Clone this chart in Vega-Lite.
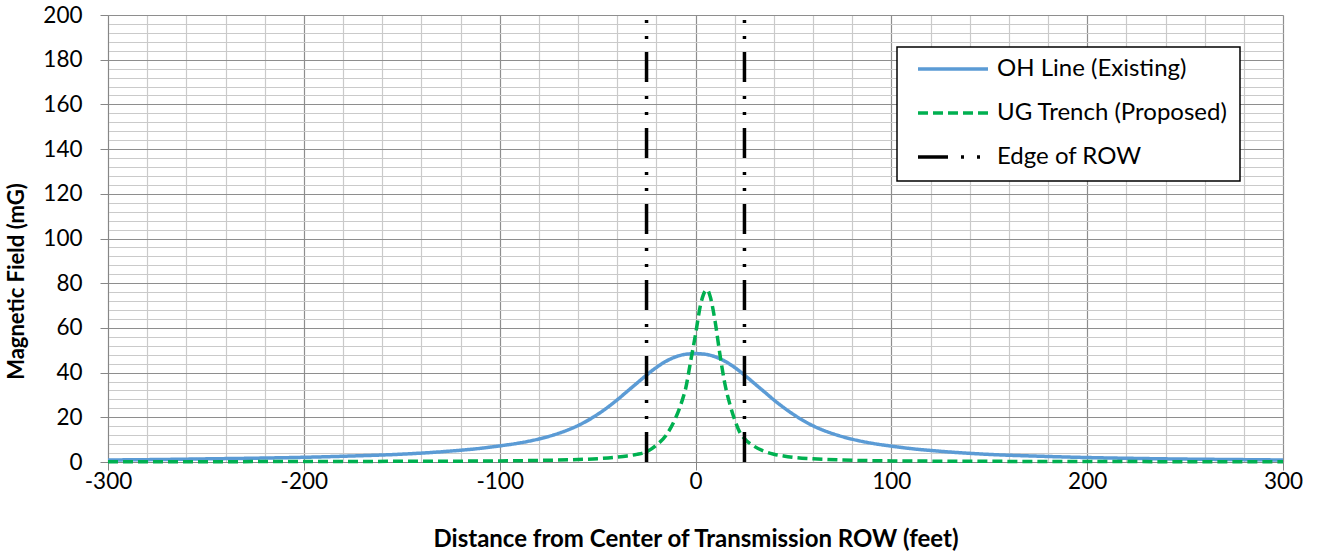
{
  "$schema": "https://vega.github.io/schema/vega-lite/v6.json",
  "width": 1175,
  "height": 447,
  "autosize": {"type": "none"},
  "padding": {"left": 108, "top": 15, "right": 34, "bottom": 92},
  "background": "white",
  "config": {
    "view": {"stroke": null},
    "font": "Lato",
    "axis": {
      "domainColor": "#868686",
      "tickColor": "#868686",
      "labelColor": "#000000",
      "titleColor": "#000000",
      "labelFont": "Lato",
      "labelFontSize": 22.5,
      "titleFont": "Lato",
      "titleFontWeight": "bold",
      "tickSize": 8,
      "labelOverlap": false,
      "labelFlush": false
    },
    "legend": {
      "strokeColor": "#000000",
      "strokeWidth": 1.5,
      "fillColor": "#ffffff",
      "padding": 12,
      "symbolType": "stroke",
      "symbolSize": 4900,
      "symbolStrokeWidth": 3.5,
      "symbolOffset": 7,
      "labelOffset": 7,
      "clipHeight": 20,
      "rowPadding": 20,
      "labelFont": "Lato",
      "labelFontSize": 24,
      "labelColor": "#000000",
      "labelLimit": 400
    }
  },
  "datasets": {
    "oh": [
      {"ft": -300, "mG": 0.9, "series": "OH Line (Existing)"},
      {"ft": -275, "mG": 1.1, "series": "OH Line (Existing)"},
      {"ft": -250, "mG": 1.4, "series": "OH Line (Existing)"},
      {"ft": -225, "mG": 1.7, "series": "OH Line (Existing)"},
      {"ft": -200, "mG": 2.1, "series": "OH Line (Existing)"},
      {"ft": -175, "mG": 2.7, "series": "OH Line (Existing)"},
      {"ft": -150, "mG": 3.5, "series": "OH Line (Existing)"},
      {"ft": -125, "mG": 4.9, "series": "OH Line (Existing)"},
      {"ft": -110, "mG": 6.1, "series": "OH Line (Existing)"},
      {"ft": -100, "mG": 7.2, "series": "OH Line (Existing)"},
      {"ft": -90, "mG": 8.5, "series": "OH Line (Existing)"},
      {"ft": -80, "mG": 10.3, "series": "OH Line (Existing)"},
      {"ft": -70, "mG": 12.8, "series": "OH Line (Existing)"},
      {"ft": -60, "mG": 16.3, "series": "OH Line (Existing)"},
      {"ft": -50, "mG": 21.3, "series": "OH Line (Existing)"},
      {"ft": -40, "mG": 27.8, "series": "OH Line (Existing)"},
      {"ft": -35, "mG": 31.5, "series": "OH Line (Existing)"},
      {"ft": -30, "mG": 35.2, "series": "OH Line (Existing)"},
      {"ft": -25, "mG": 38.9, "series": "OH Line (Existing)"},
      {"ft": -20, "mG": 42.3, "series": "OH Line (Existing)"},
      {"ft": -15, "mG": 45.1, "series": "OH Line (Existing)"},
      {"ft": -10, "mG": 47.1, "series": "OH Line (Existing)"},
      {"ft": -5, "mG": 48.2, "series": "OH Line (Existing)"},
      {"ft": 0, "mG": 48.5, "series": "OH Line (Existing)"},
      {"ft": 5, "mG": 48.2, "series": "OH Line (Existing)"},
      {"ft": 10, "mG": 47.1, "series": "OH Line (Existing)"},
      {"ft": 15, "mG": 45.1, "series": "OH Line (Existing)"},
      {"ft": 20, "mG": 42.3, "series": "OH Line (Existing)"},
      {"ft": 25, "mG": 38.9, "series": "OH Line (Existing)"},
      {"ft": 30, "mG": 35.2, "series": "OH Line (Existing)"},
      {"ft": 35, "mG": 31.5, "series": "OH Line (Existing)"},
      {"ft": 40, "mG": 27.8, "series": "OH Line (Existing)"},
      {"ft": 50, "mG": 21.3, "series": "OH Line (Existing)"},
      {"ft": 60, "mG": 16.2, "series": "OH Line (Existing)"},
      {"ft": 70, "mG": 12.7, "series": "OH Line (Existing)"},
      {"ft": 80, "mG": 10.2, "series": "OH Line (Existing)"},
      {"ft": 90, "mG": 8.4, "series": "OH Line (Existing)"},
      {"ft": 100, "mG": 7.1, "series": "OH Line (Existing)"},
      {"ft": 110, "mG": 6.0, "series": "OH Line (Existing)"},
      {"ft": 125, "mG": 4.8, "series": "OH Line (Existing)"},
      {"ft": 150, "mG": 3.4, "series": "OH Line (Existing)"},
      {"ft": 175, "mG": 2.6, "series": "OH Line (Existing)"},
      {"ft": 200, "mG": 2.0, "series": "OH Line (Existing)"},
      {"ft": 225, "mG": 1.6, "series": "OH Line (Existing)"},
      {"ft": 250, "mG": 1.3, "series": "OH Line (Existing)"},
      {"ft": 275, "mG": 1.1, "series": "OH Line (Existing)"},
      {"ft": 300, "mG": 0.9, "series": "OH Line (Existing)"}
    ],
    "ug": [
      {"ft": -300, "mG": 0.1, "series": "UG Trench (Proposed)"},
      {"ft": -250, "mG": 0.15, "series": "UG Trench (Proposed)"},
      {"ft": -200, "mG": 0.2, "series": "UG Trench (Proposed)"},
      {"ft": -150, "mG": 0.3, "series": "UG Trench (Proposed)"},
      {"ft": -100, "mG": 0.5, "series": "UG Trench (Proposed)"},
      {"ft": -75, "mG": 0.8, "series": "UG Trench (Proposed)"},
      {"ft": -60, "mG": 1.1, "series": "UG Trench (Proposed)"},
      {"ft": -50, "mG": 1.5, "series": "UG Trench (Proposed)"},
      {"ft": -40, "mG": 2.2, "series": "UG Trench (Proposed)"},
      {"ft": -35, "mG": 2.7, "series": "UG Trench (Proposed)"},
      {"ft": -30, "mG": 3.4, "series": "UG Trench (Proposed)"},
      {"ft": -25, "mG": 4.6, "series": "UG Trench (Proposed)"},
      {"ft": -20, "mG": 7.5, "series": "UG Trench (Proposed)"},
      {"ft": -15, "mG": 12.0, "series": "UG Trench (Proposed)"},
      {"ft": -10, "mG": 20.0, "series": "UG Trench (Proposed)"},
      {"ft": -7, "mG": 27.0, "series": "UG Trench (Proposed)"},
      {"ft": -5, "mG": 33.0, "series": "UG Trench (Proposed)"},
      {"ft": -2.5, "mG": 45.0, "series": "UG Trench (Proposed)"},
      {"ft": 0, "mG": 57.0, "series": "UG Trench (Proposed)"},
      {"ft": 2.5, "mG": 70.0, "series": "UG Trench (Proposed)"},
      {"ft": 5, "mG": 76.5, "series": "UG Trench (Proposed)"},
      {"ft": 6, "mG": 77.0, "series": "UG Trench (Proposed)"},
      {"ft": 7.5, "mG": 74.0, "series": "UG Trench (Proposed)"},
      {"ft": 10, "mG": 63.0, "series": "UG Trench (Proposed)"},
      {"ft": 12.5, "mG": 48.0, "series": "UG Trench (Proposed)"},
      {"ft": 15, "mG": 35.0, "series": "UG Trench (Proposed)"},
      {"ft": 17.5, "mG": 26.0, "series": "UG Trench (Proposed)"},
      {"ft": 20, "mG": 19.0, "series": "UG Trench (Proposed)"},
      {"ft": 22.5, "mG": 13.5, "series": "UG Trench (Proposed)"},
      {"ft": 25, "mG": 10.5, "series": "UG Trench (Proposed)"},
      {"ft": 30, "mG": 7.0, "series": "UG Trench (Proposed)"},
      {"ft": 35, "mG": 4.8, "series": "UG Trench (Proposed)"},
      {"ft": 40, "mG": 3.5, "series": "UG Trench (Proposed)"},
      {"ft": 45, "mG": 2.7, "series": "UG Trench (Proposed)"},
      {"ft": 50, "mG": 2.1, "series": "UG Trench (Proposed)"},
      {"ft": 60, "mG": 1.4, "series": "UG Trench (Proposed)"},
      {"ft": 75, "mG": 0.9, "series": "UG Trench (Proposed)"},
      {"ft": 100, "mG": 0.5, "series": "UG Trench (Proposed)"},
      {"ft": 150, "mG": 0.3, "series": "UG Trench (Proposed)"},
      {"ft": 200, "mG": 0.2, "series": "UG Trench (Proposed)"},
      {"ft": 250, "mG": 0.15, "series": "UG Trench (Proposed)"},
      {"ft": 300, "mG": 0.1, "series": "UG Trench (Proposed)"}
    ],
    "row": [
      {"ft": -25, "mG": 0, "side": "left", "series": "Edge of ROW"},
      {"ft": -25, "mG": 200, "side": "left", "series": "Edge of ROW"},
      {"ft": 25, "mG": 0, "side": "right", "series": "Edge of ROW"},
      {"ft": 25, "mG": 200, "side": "right", "series": "Edge of ROW"}
    ]
  },
  "encoding": {
    "x": {
      "field": "ft",
      "type": "quantitative",
      "scale": {"domain": [-300, 300], "nice": false, "zero": false},
      "axis": {
        "title": "Distance from Center of Transmission ROW (feet)",
        "titleFontSize": 24,
        "values": [-300, -280, -260, -240, -220, -200, -180, -160, -140, -120, -100, -80, -60, -40, -20, 0, 20, 40, 60, 80, 100, 120, 140, 160, 180, 200, 220, 240, 260, 280, 300],
        "labelExpr": "datum.value % 100 === 0 ? '' + datum.value : ''",
        "gridColor": {"condition": {"test": "datum.value % 100 === 0", "value": "#8E8E8E"}, "value": "#CACACA"},
        "gridWidth": 1.2,
        "tickOpacity": {"condition": {"test": "datum.value % 100 === 0", "value": 1}, "value": 0},
        "labelPadding": 0,
        "titlePadding": 35
      }
    },
    "y": {
      "field": "mG",
      "type": "quantitative",
      "scale": {"domain": [0, 200], "nice": false},
      "axis": {
        "title": "Magnetic Field (mG)",
        "titleFontSize": 22,
        "titleY": 266,
        "values": [0, 4, 8, 12, 16, 20, 24, 28, 32, 36, 40, 44, 48, 52, 56, 60, 64, 68, 72, 76, 80, 84, 88, 92, 96, 100, 104, 108, 112, 116, 120, 124, 128, 132, 136, 140, 144, 148, 152, 156, 160, 164, 168, 172, 176, 180, 184, 188, 192, 196, 200],
        "labelExpr": "datum.value % 20 === 0 ? '' + datum.value : ''",
        "gridColor": {"condition": {"test": "datum.value % 20 === 0", "value": "#8E8E8E"}, "value": "#CACACA"},
        "gridWidth": 1.2,
        "tickOpacity": {"condition": {"test": "datum.value % 20 === 0", "value": 1}, "value": 0},
        "labelPadding": 18,
        "titlePadding": 14
      }
    },
    "color": {
      "field": "series",
      "type": "nominal",
      "scale": {
        "domain": ["OH Line (Existing)", "UG Trench (Proposed)", "Edge of ROW"],
        "range": ["#5B9BD5", "#00B050", "#000000"]
      },
      "legend": {"title": null, "orient": "none", "legendX": 789, "legendY": 32}
    },
    "strokeDash": {
      "field": "series",
      "type": "nominal",
      "scale": {
        "domain": ["OH Line (Existing)", "UG Trench (Proposed)", "Edge of ROW"],
        "range": [[1, 0], [10, 5], [30, 13, 3, 13, 3, 14]]
      },
      "legend": {"title": null, "orient": "none", "legendX": 789, "legendY": 32}
    }
  },
  "layer": [
    {
      "data": {"name": "oh"},
      "mark": {"type": "line", "interpolate": "monotone", "strokeWidth": 3.5, "strokeCap": "butt"}
    },
    {
      "data": {"name": "ug"},
      "mark": {"type": "line", "interpolate": "monotone", "strokeWidth": 3.5, "strokeCap": "butt"}
    },
    {
      "data": {"name": "row"},
      "mark": {"type": "line", "strokeWidth": 3.5, "strokeCap": "butt"},
      "encoding": {
        "detail": {"field": "side", "type": "nominal"},
        "order": {"field": "mG", "type": "quantitative"}
      }
    }
  ]
}
